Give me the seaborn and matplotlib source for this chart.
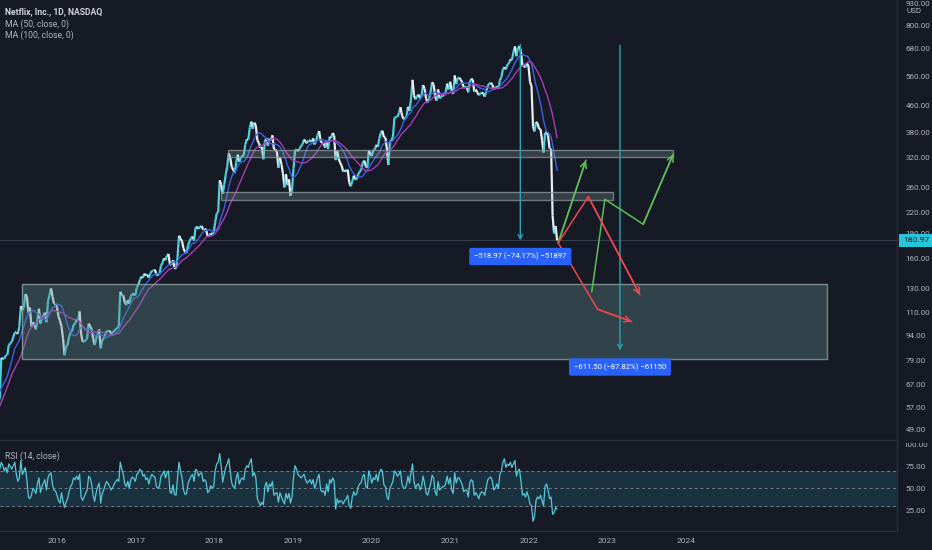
import numpy as np
import pandas as pd
import matplotlib
matplotlib.use("Agg")
import matplotlib.pyplot as plt
import matplotlib.dates as mdates
import matplotlib.ticker as mticker
from matplotlib.collections import LineCollection
from matplotlib.patches import Rectangle
from matplotlib.transforms import blended_transform_factory, Bbox, TransformedBbox
import seaborn as sns

# ---------------- data (weekly closes) ----------------
price_start = "2014-11-07"
close_2014 = [51.0, 52.0, 50.0, 49.6, 49.0, 47.0, 49.0, 48.6]
close_2015 = [49.8, 48.0, 47.0, 64.0, 63.0, 64.5, 67.8, 68.0, 67.8, 66.0, 63.0, 62.0, 60.0,
              59.0, 61.0, 80.5, 80.0, 80.0, 82.0, 82.0, 88.0, 89.0, 90.0, 93.0, 96.0, 96.0,
              95.0, 100.0, 115.0, 112.0, 114.0, 125.0, 123.0, 110.0, 114.0, 100.0, 103.0, 101.0, 98.0,
              105.0, 113.0, 102.0, 106.0, 108.0, 110.0, 103.0, 119.0, 124.0, 130.0, 123.0, 117.0, 117.0]
close_2016 = [114, 107, 104, 100, 92, 82, 87, 88, 93, 96, 97, 101, 102, 105, 104, 111, 95, 90,
              90, 91, 92, 102, 100, 98, 92, 88, 92, 95, 98, 86, 91, 92, 95, 97, 97, 97, 95, 96, 97, 98,
              99, 100, 127, 124, 124, 118, 116, 120, 117, 123, 125, 125, 124]
close_2017 = [131, 133, 138, 141, 140, 144, 142, 143, 140, 144, 147, 147, 148, 143, 143, 143, 152,
              155, 160, 158, 163, 165, 153, 153, 158, 150, 149, 161, 187, 183, 180, 171, 167, 166,
              175, 180, 184, 186, 181, 198, 199, 196, 199, 200, 195, 196, 195, 186, 187, 190, 189, 191]
close_2018 = [205, 218, 220, 274, 266, 250, 266, 285, 301, 330, 320, 300, 295, 288, 311, 327, 311,
              320, 324, 326, 351, 364, 363, 395, 411, 391, 408, 400, 361, 355, 343, 345, 317, 359, 367,
              348, 365, 361, 374, 340, 339, 333, 299, 321, 306, 287, 261, 286, 265, 276, 246, 256]
close_2019 = [297, 337, 339, 335, 340, 347, 351, 363, 358, 354, 361, 361, 357, 366, 351, 360, 374,
              385, 360, 354, 354, 343, 360, 340, 370, 367, 380, 373, 315, 335, 318, 309, 303, 291, 294,
              291, 295, 270, 263, 272, 283, 276, 276, 286, 291, 295, 310, 314, 302, 299, 336, 329]
close_2020 = [325, 338, 339, 350, 345, 366, 381, 386, 369, 368, 340, 305, 357, 361, 370, 422, 424,
              424, 437, 454, 429, 419, 419, 425, 455, 443, 480, 548, 492, 479, 489, 495, 482, 492, 529,
              516, 482, 469, 482, 503, 539, 531, 489, 475, 513, 482, 488, 491, 493, 503, 534, 513]
close_2021 = [541, 510, 497, 565, 532, 555, 556, 549, 538, 520, 523, 523, 503, 539, 552, 549, 505, 513,
              503, 493, 499, 502, 499, 488, 508, 527, 534, 537, 530, 515, 517, 524, 515, 546, 558,
              590, 598, 589, 610, 613, 632, 628, 664, 690, 645, 683, 692, 665, 602, 605, 597, 614, 602]
close_2022 = [541, 525, 397, 384, 410, 406, 391, 390, 361, 332, 380, 382, 373, 341, 341, 215, 190,
              200, 180.97]
last_price = 180.97

rsi_start = "2015-04-10"
rsi_2015 = [72, 80, 76, 70, 74, 68, 78, 75, 72, 76, 80, 66, 58, 62, 82, 66, 70, 74, 60, 40, 38,
            42, 50, 48, 44, 55, 62, 45, 52, 56, 60, 48, 62, 66, 68, 54, 48, 47]
rsi_2016 = [42, 36, 33, 45, 35, 28, 34, 38, 46, 52, 55, 62, 60, 64, 60, 66, 40, 36, 40, 44, 48, 64,
            62, 55, 42, 35, 45, 52, 56, 33, 44, 48, 54, 58, 55, 52, 48, 51, 55, 58, 60, 58, 80, 72,
            66, 55, 52, 58, 50, 60, 63, 61, 58]
rsi_2017 = [66, 68, 72, 70, 64, 66, 60, 62, 55, 62, 66, 64, 63, 52, 50, 52, 64, 66, 70, 62, 68,
            70, 46, 44, 54, 43, 42, 62, 80, 70, 62, 48, 43, 44, 56, 60, 64, 66, 58, 72, 70, 64, 67,
            68, 58, 60, 57, 45, 47, 53, 50, 52]
rsi_2018 = [70, 78, 80, 90, 76, 57, 66, 74, 78, 84, 70, 56, 52, 50, 62, 68, 55, 60, 62, 60, 72,
            76, 74, 80, 84, 64, 68, 62, 38, 34, 30, 34, 31, 52, 57, 46, 55, 52, 58, 42, 44, 45, 34,
            45, 40, 36, 32, 44, 38, 44, 33, 40]
rsi_2019 = [62, 76, 72, 66, 64, 62, 64, 66, 60, 56, 58, 60, 55, 60, 50, 55, 62, 66, 48, 46, 47, 42,
            55, 46, 60, 56, 62, 58, 26, 38, 33, 36, 35, 32, 36, 38, 42, 30, 27, 40, 46, 42, 44,
            52, 55, 57, 64, 66, 52, 50, 70, 64]
rsi_2020 = [56, 62, 60, 66, 58, 68, 72, 70, 54, 52, 40, 37, 50, 54, 58, 70, 68, 64, 66, 70, 55, 50,
            50, 54, 64, 56, 68, 78, 58, 50, 54, 55, 48, 52, 64, 56, 45, 42, 48, 55, 65, 62, 46, 42,
            58, 48, 50, 52, 52, 55, 64, 55]
rsi_2021 = [62, 48, 44, 68, 56, 62, 62, 58, 54, 46, 48, 48, 40, 56, 60, 58, 42, 45, 42, 38, 44, 46,
            45, 42, 52, 60, 62, 63, 58, 48, 50, 55, 50, 66, 70, 80, 84, 74, 78, 76, 80, 74, 78, 82,
            64, 70, 72, 58, 42, 44, 40, 46, 40]
rsi_2022 = [32, 30, 12, 18, 36, 40, 38, 42, 36, 30, 52, 55, 48, 38, 40, 20, 22, 28, 26]

ma_fast_weeks = 10    # ~ MA(50) daily
ma_slow_weeks = 20    # ~ MA(100) daily

# zones (start, end, low, high)
upper_zone = ("2018-03-06", "2023-11-04", 321.0, 338.0)
middle_zone = ("2018-02-01", "2023-01-26", 238.5, 252.0)
lower_zone = ("2015-07-23", "2025-10-18", 79.8, 133.8)

# measurement arrows (date, from price, to price) and their labels
measure_1 = ("2021-11-23", 699.7, 181.0)
measure_2 = ("2023-03-01", 696.3, 84.8)
measure_1_label = ("2021-11-23", 162.0, "\u2212518.97 (\u221274.17%) \u221251897")
measure_2_label = ("2023-03-01", 75.6, "\u2212611.50 (\u221287.82%) \u221261150")

# scenario paths
green_path_1 = [("2022-05-18", 178.0), ("2022-09-24", 315.0)]
green_path_2 = [("2022-10-21", 127.0), ("2022-12-21", 240.5), ("2023-06-17", 202.4), ("2023-11-04", 328.6)]
red_path_1 = [("2022-05-18", 178.0), ("2022-10-05", 244.8), ("2023-06-02", 124.3)]
red_path_2 = [("2022-05-18", 178.0), ("2022-11-17", 112.6), ("2023-04-25", 103.4)]

price_ticks = [49, 57, 67, 79, 94, 110, 130, 160, 190, 220, 260, 320, 380, 460, 560, 680, 800, 930]
rsi_ticks = [25, 50, 75]
year_ticks = list(range(2016, 2025))

# ---------------- styling ----------------
bg = "#161a25"
grid_c = "#2a2e39"
txt_c = "#b2b5be"
fs = 5.8
sns.set_theme(style="dark", rc={"axes.facecolor": bg, "figure.facecolor": bg})
plt.rcParams["font.family"] = ["Roboto", "DejaVu Sans"]

fig = plt.figure(figsize=(9.32, 5.5), dpi=100)
ax = fig.add_axes([0, 110 / 550, 897 / 932, 440 / 550])
axr = fig.add_axes([0, 19 / 550, 897 / 932, 90 / 550], sharex=ax)
for a in (ax, axr):
    a.set_facecolor(bg)
    for s in ("left", "top"):
        a.spines[s].set_visible(False)
    for s in ("right", "bottom"):
        a.spines[s].set_color(grid_c)
        a.spines[s].set_linewidth(1)
    a.grid(False)

# ---------------- price ----------------
closes = np.array(close_2014 + close_2015 + close_2016 + close_2017 + close_2018 +
                  close_2019 + close_2020 + close_2021 + close_2022, dtype=float)
pdates = pd.date_range(price_start, periods=len(closes), freq="W-FRI")
px = mdates.date2num(pdates)
df = pd.DataFrame({"x": px, "close": closes})
df["ma_fast"] = df["close"].rolling(ma_fast_weeks).mean()
df["ma_slow"] = df["close"].rolling(ma_slow_weeks).mean()

ax.set_yscale("log")

pts = np.column_stack([px, closes])
segs = np.stack([pts[:-1], pts[1:]], axis=1)
cols = np.where(np.diff(closes) >= 0, "#4fcfdc", "#e8eef0")
ax.add_collection(LineCollection(segs, colors=cols, linewidths=1.6, zorder=3))

sns.lineplot(data=df, x="x", y="ma_fast", ax=ax, color="#3a62e6", lw=1.0, zorder=4)
sns.lineplot(data=df, x="x", y="ma_slow", ax=ax, color="#a63cb8", lw=1.0, zorder=4)

ax.axhline(last_price, color="#363c4a", lw=0.8, zorder=1)


def d(s):
    return mdates.date2num(pd.Timestamp(s))


for z, fc, ec, al, ea in ((lower_zone, "#5f8c8c", "#9aa8a8", 0.36, 0.75),
                          (upper_zone, "#9fb3b3", "#8a989c", 0.24, 0.75),
                          (middle_zone, "#9fb3b3", "#8a989c", 0.24, 0.75)):
    x0, x1, lo, hi = z
    ax.add_patch(Rectangle((d(x0), lo), d(x1) - d(x0), hi - lo, facecolor=fc, alpha=al,
                           edgecolor="none", zorder=5))
    ax.add_patch(Rectangle((d(x0), lo), d(x1) - d(x0), hi - lo, facecolor="none",
                           edgecolor=ec, lw=1.0, alpha=ea, zorder=5))

teal = "#2aa3b3"
for m in (measure_1, measure_2):
    ax.annotate("", xy=(d(m[0]), m[2]), xytext=(d(m[0]), m[1]),
                arrowprops=dict(arrowstyle="->", color=teal, lw=1.0, shrinkA=0, shrinkB=0,
                                mutation_scale=8), zorder=6)
for lab in (measure_1_label, measure_2_label):
    ax.text(d(lab[0]), lab[1], lab[2], ha="center", va="center", color="white", fontsize=5.6,
            zorder=8, bbox=dict(boxstyle="round,pad=0.62,rounding_size=0.25", fc="#2962ff", ec="none"))


def draw_path(path, color):
    xs = [d(p[0]) for p in path]
    ys = [p[1] for p in path]
    ax.plot(xs, ys, color=color, lw=1.1, zorder=7, solid_capstyle="round")
    ax.annotate("", xy=(xs[-1], ys[-1]), xytext=(xs[-2], ys[-2]),
                arrowprops=dict(arrowstyle="->", color=color, lw=1.1, shrinkA=0, shrinkB=0,
                                mutation_scale=11), zorder=7)


for pth in (green_path_1, green_path_2):
    draw_path(pth, "#5fbd55")
for pth in (red_path_1, red_path_2):
    draw_path(pth, "#ef4550")

t0 = mdates.date2num(pd.Timestamp("2016-01-01"))
px_day = 78.6 / 365.25
ax.set_xlim(t0 - 57 / px_day, t0 + 840 / px_day)
ax.set_ylim(45.7, 950.6)
ax.yaxis.set_major_locator(mticker.FixedLocator(price_ticks))
ax.yaxis.set_major_formatter(mticker.FuncFormatter(lambda v, p: f"{v:.2f}"))
ax.yaxis.set_minor_locator(mticker.NullLocator())
ax.yaxis.tick_right()
ax.tick_params(axis="y", length=0, labelsize=fs, labelcolor=txt_c, pad=6)
ax.tick_params(axis="x", length=0, labelbottom=False)
ax.set_xlabel("")
ax.set_ylabel("")

bt = blended_transform_factory(ax.transAxes, ax.transData)
ax.text(1 + 6 / 897, last_price, f"{last_price:.2f}", transform=bt, ha="left", va="center",
        fontsize=fs + 0.3, color="#131722", zorder=20, clip_on=False,
        bbox=dict(boxstyle="square,pad=0.45", fc="#26c6da", ec="none"))

# ---------------- RSI ----------------
rsi = np.array(rsi_2015 + rsi_2016 + rsi_2017 + rsi_2018 + rsi_2019 + rsi_2020 + rsi_2021 + rsi_2022,
               dtype=float)
rdates = pd.date_range(rsi_start, periods=len(rsi), freq="W-FRI")
rdf = pd.DataFrame({"x": mdates.date2num(rdates), "rsi": rsi})
axr.axhspan(30, 70, color="#1a3140", zorder=0)
for lvl in (70, 50, 30):
    axr.axhline(lvl, color="#787b86", lw=0.7, ls=(0, (3, 3)), zorder=1)
sns.lineplot(data=rdf, x="x", y="rsi", ax=axr, color="#56c8d8", lw=0.9, zorder=3)
axr.set_ylim(0.9, 104.4)
axr.yaxis.set_major_locator(mticker.FixedLocator(rsi_ticks))
axr.yaxis.set_major_formatter(mticker.FuncFormatter(lambda v, p: f"{v:.2f}"))
axr.yaxis.tick_right()
axr.tick_params(axis="y", length=0, labelsize=fs, labelcolor=txt_c, pad=6)
axr.set_xticks([d(f"{y}-01-01") for y in year_ticks])
axr.set_xticklabels([str(y) for y in year_ticks])
axr.tick_params(axis="x", length=0, labelsize=fs + 0.2, labelcolor=txt_c, pad=5)
axr.set_xlabel("")
axr.set_ylabel("")
rt = blended_transform_factory(axr.transAxes, axr.transData)
t100 = axr.text(1 + 6 / 897, 100, "100.00", transform=rt, ha="left", va="center",
                fontsize=fs, color=txt_c)
t100.set_clip_path(None)
t100.set_clip_box(TransformedBbox(Bbox([[0, 0], [1, (550 - 443) / 550]]), fig.transFigure))
t100.set_clip_on(True)

# ---------------- header texts ----------------
fig.text(5 / 932, 1 - 12 / 550, "Netflix, Inc., 1D, NASDAQ", color="#d1d4dc", fontsize=6.2,
         fontweight="semibold", va="center", ha="left")
fig.text(5 / 932, 1 - 24 / 550, "MA (50, close, 0)", color=txt_c, fontsize=6.2, va="center", ha="left")
fig.text(5 / 932, 1 - 35 / 550, "MA (100, close, 0)", color=txt_c, fontsize=6.2, va="center", ha="left")
fig.text(5 / 932, 1 - 456 / 550, "RSI (14, close)", color=txt_c, fontsize=6.2, va="center", ha="left")
fig.text(914 / 932, 1 - 11 / 550, "USD", color=txt_c, fontsize=fs, va="center", ha="center")

fig.savefig("out.png", dpi=100, facecolor=bg)
